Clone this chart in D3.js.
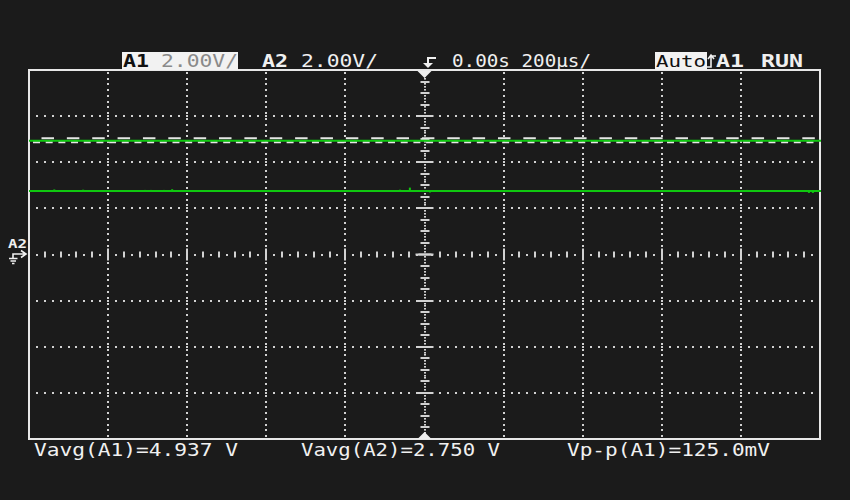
<!DOCTYPE html>
<html><head><meta charset="utf-8">
<script src="https://cdn.jsdelivr.net/npm/d3@7"></script>
<style>html,body{margin:0;padding:0;background:#1b1b1b;} svg{display:block}</style>
</head><body>
<svg id="c" width="850" height="500"></svg>
<script>
// ---- data ----
const voltsPerDiv = 2.0;          // V/div
const timePerDiv = 200;           // µs/div
const divsX = 10, divsY = 8;
const a1Level = 4.937;            // V (Vavg A1)
const a2Level = 2.750;            // V (Vavg A2)
const a1RippleHigh = 5.04;        // upper ripple edge (V)
const a1RippleLow = 4.87;         // lower ripple edge (V)
// small glitches on A2 trace: [time µs, deviation V]
const a2GlitchTimes = [-936, -863, -707, -692, -659, -638, -62, -37, 14, 815, 972, 982];
const a2GlitchDevs  = [0.07, 0.06, 0.05, 0.05, 0.05, 0.08, 0.06, 0.15, -0.06, 0.05, -0.08, -0.08];
const headerA1 = ["A1", "2.00V/"];
const headerA2 = ["A2", "2.00V/"];
const headerTime = "0.00s 200µs/";
const headerTrig = ["Auto", "A1", "RUN"];
const measureLabels = ["Vavg(A1)=4.937 V", "Vavg(A2)=2.750 V", "Vp-p(A1)=125.0mV"];
const markerLabel = "A2";

// ---- scales ----
const halfT = timePerDiv * divsX / 2, halfV = voltsPerDiv * divsY / 2;
const x = d3.scaleLinear().domain([-halfT, halfT]).range([29, 820]);
const y = d3.scaleLinear().domain([-halfV, halfV]).range([439, 70]);

const svg = d3.select("#c");
svg.append("rect").attr("width", 850).attr("height", 500).attr("fill", "#1b1b1b");

const dotCol = "#d2d2d2";
const g = svg.append("g");

function dot(px, py) {
  g.append("rect").attr("x", Math.round(px) - 1).attr("y", Math.round(py) - 1)
    .attr("width", 2).attr("height", 2).attr("fill", dotCol);
}

// vertical grid lines (dotted)
const gridTimes = d3.range(-halfT + timePerDiv, halfT, timePerDiv).filter(t => t !== 0);
const gridVolts = d3.range(-halfV + voltsPerDiv, halfV, voltsPerDiv).filter(v => v !== 0);
const vStep = voltsPerDiv / 8;
gridTimes.forEach(t => {
  d3.range(-halfV + vStep / 2, halfV, vStep).forEach(v => dot(x(t), y(v)));
  gridVolts.forEach(v => dot(x(t), y(v)));
});
// horizontal grid lines (dotted)
const tStep = timePerDiv / 10;
gridVolts.forEach(v => {
  d3.range(-halfT + tStep, halfT - tStep / 2, tStep).forEach(t => {
    if (Math.abs(t) < 1e-6) return;
    dot(x(t), y(v));
  });
});
// center horizontal axis with ticks
d3.range(-halfT + tStep, halfT - tStep / 2, tStep).forEach(t => {
  const r = Math.round(t / tStep);
  if (r === 0) return;
  if (r % 10 === 0) {
    g.append("rect").attr("x", Math.round(x(t)) - 1).attr("y", y(0) - 6).attr("width", 2).attr("height", 12).attr("fill", dotCol);
  } else if (r % 2 === 0) {
    g.append("rect").attr("x", Math.round(x(t)) - 1).attr("y", y(0) - 3).attr("width", 2).attr("height", 6).attr("fill", dotCol);
  } else dot(x(t), y(0));
});
// center vertical axis with ticks
const cvStep = voltsPerDiv / 16;
d3.range(-halfV + cvStep, halfV - cvStep / 2, cvStep).forEach(v => {
  const r = Math.round(v / cvStep);
  if (r === 0) {
    g.append("rect").attr("x", x(0) - 9).attr("y", y(0) - 1).attr("width", 18).attr("height", 2).attr("fill", dotCol);
    return;
  }
  if (r % 16 === 0) {
    g.append("rect").attr("x", x(0) - 8).attr("y", Math.round(y(v)) - 1).attr("width", 17).attr("height", 2).attr("fill", dotCol);
  } else if (r % 4 === 0) {
    g.append("rect").attr("x", x(0) - 4).attr("y", Math.round(y(v)) - 1).attr("width", 9).attr("height", 2).attr("fill", dotCol);
  } else {
    g.append("rect").attr("x", x(0) - 0.5).attr("y", Math.round(y(v)) - 1).attr("width", 2).attr("height", 1.6).attr("fill", dotCol);
  }
});
g.append("rect").attr("x", x(0) - 6).attr("y", y(0) - 1).attr("width", 13).attr("height", 2).attr("fill", dotCol);

// frame
svg.append("rect").attr("x", 29).attr("y", 70).attr("width", 791).attr("height", 369)
  .attr("fill", "none").attr("stroke", "#e8e8e8").attr("stroke-width", 2);

// trigger position markers
svg.append("path").attr("d", `M${x(0) - 7},71 L${x(0) + 7},71 L${x(0)},78 Z`).attr("fill", "#eeeeee");
svg.append("path").attr("d", `M${x(0) - 7},439 L${x(0) + 7},439 L${x(0)},432 Z`).attr("fill", "#eeeeee");

// A1 ripple (white dashes)
svg.append("line").attr("x1", 41.5).attr("x2", x(halfT) - 4).attr("y1", y(a1RippleHigh)).attr("y2", y(a1RippleHigh))
  .attr("stroke", "#e6e6e6").attr("stroke-width", 2).attr("stroke-dasharray", "12.5 12.86");
svg.append("line").attr("x1", 33).attr("x2", x(halfT) - 6).attr("y1", y(a1RippleLow)).attr("y2", y(a1RippleLow))
  .attr("stroke", "#e6e6e6").attr("stroke-width", 2).attr("stroke-dasharray", "7 5.68");

// green traces
const green = "#10c810";
[a1Level, a2Level].forEach(v => {
  svg.append("line").attr("x1", x(-halfT)).attr("x2", x(halfT) + 1).attr("y1", y(v)).attr("y2", y(v))
    .attr("stroke", green).attr("stroke-width", 2);
});
a2GlitchTimes.forEach((t, i) => {
  svg.append("line").attr("x1", x(t)).attr("x2", x(t)).attr("y1", y(a2Level)).attr("y2", y(a2Level + a2GlitchDevs[i]))
    .attr("stroke", green).attr("stroke-width", 2);
});

// ---- text ----
const font = "'DejaVu Sans Mono', monospace";
function txt(s, x0, base, w, opts = {}) {
  return svg.append("text").attr("x", x0).attr("y", base).text(s)
    .attr("font-family", font).attr("font-size", opts.size || 17)
    .attr("font-weight", opts.bold ? "bold" : "normal")
    .attr("fill", opts.fill || "#f0f0f0")
    .attr("textLength", w).attr("lengthAdjust", "spacingAndGlyphs");
}
// header
svg.append("rect").attr("x", 122).attr("y", 52).attr("width", 116).attr("height", 18).attr("fill", "#f2f2f2");
txt(headerA1[0], 123, 67, 26, { bold: true, fill: "#111" });
txt(headerA1[1], 161, 67, 77, { fill: "#8a8a8a" });
txt(headerA2[0], 262, 67, 26, { bold: true });
txt(headerA2[1], 301, 67, 77);
// trigger edge icon
svg.append("path").attr("d", "M436,58 H428 V64").attr("fill", "none").attr("stroke", "#f0f0f0").attr("stroke-width", 2);
svg.append("path").attr("d", "M423,63 L433,63 L428,68 Z").attr("fill", "#f0f0f0");
txt(headerTime, 452, 67, 139);
svg.append("rect").attr("x", 655).attr("y", 52).attr("width", 52).attr("height", 18).attr("fill", "#f2f2f2");
txt(headerTrig[0], 656, 67, 50, { fill: "#111", size: 16 });
// slope arrow
svg.append("path").attr("d", "M707,67 H711 V56 M708,59 L711,55 L714,59 M711,56 H716").attr("fill", "none").attr("stroke", "#f0f0f0").attr("stroke-width", 1.6);
txt(headerTrig[1], 716, 67, 28, { bold: true });
txt(headerTrig[2], 761, 67, 42, { bold: true });

// bottom measurements
txt(measureLabels[0], 34, 456, 204);
txt(measureLabels[1], 301, 456, 199);
txt(measureLabels[2], 567, 456, 203);

// left channel marker
txt(markerLabel, 8, 248, 19, { bold: true, size: 12 });
svg.append("path").attr("d", "M13,258 V254 H25 M21,250.5 L26,254 L21,257.5").attr("fill", "none").attr("stroke", "#f0f0f0").attr("stroke-width", 1.6);
svg.append("path").attr("d", "M9,258.5 H17.5 M10.5,261 H16 M12,263.5 H14.5").attr("fill", "none").attr("stroke", "#f0f0f0").attr("stroke-width", 1.4);
</script>
</body></html>
